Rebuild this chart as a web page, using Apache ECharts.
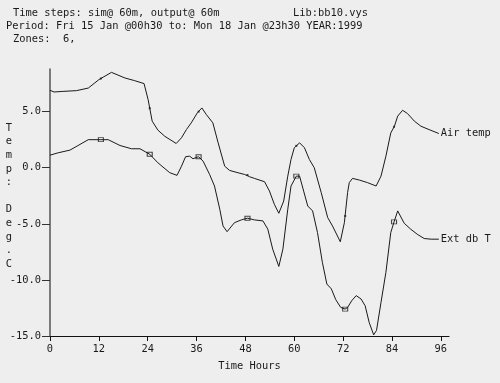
<!DOCTYPE html>
<html><head><meta charset="utf-8">
<script src="https://cdn.jsdelivr.net/npm/echarts@6/dist/echarts.min.js"></script>
<style>html,body{margin:0;padding:0;background:#eeeeee}#c{width:500px;height:383px}</style>
</head><body><div id="c"></div>
<script>
// Air temp readings (hour, deg C)
const airHours = [0,1,3,6.5,9.4,12,15.1,18.4,20.8,23.1,24.1,25.1,26.5,28.2,31.0,32.3,33.5,34.7,36.2,37.3,38.4,40.0,41.3,42.9,44.1,46.2,47.8,49,50.2,52.7,53.9,55.1,56.2,57.4,58.4,59.2,60.0,61.3,62.5,63.7,64.9,66.6,68.2,69.4,71.3,72.3,73.1,73.5,74.3,76,78,80.1,81.3,82.5,83.7,84.6,85.4,86.6,87.8,89.5,91.1,93.1,95.5];
const airTemp = [6.9,6.75,6.8,6.87,7.1,7.85,8.5,8.0,7.76,7.5,6.07,4.15,3.35,2.8,2.16,2.67,3.4,4.0,4.9,5.33,4.74,4.0,2.22,0.14,-0.24,-0.45,-0.6,-0.8,-0.95,-1.25,-2.08,-3.26,-4.06,-2.97,-0.75,0.74,1.78,2.22,1.78,0.74,0.0,-2.2,-4.44,-5.2,-6.6,-4.9,-2.2,-1.33,-0.95,-1.1,-1.33,-1.63,-0.75,1.03,3.1,3.7,4.6,5.12,4.83,4.15,3.7,3.4,3.05];
// Ext db T readings (hour, deg C)
const extHours = [0,2.0,4.9,6.9,9.4,12.5,14.3,17.2,20.0,22.1,24.5,26.5,29.4,31.2,32.3,33.3,34.3,35.1,36.5,37.6,39.2,40.4,41.7,42.5,43.5,45.3,47.0,48.5,50.2,52.3,53.5,54.7,56.2,57.2,58.4,59.2,60.5,61.3,62.3,63.3,64.5,65.7,66.9,68.0,69.1,70.2,71.4,72.5,73.1,74.1,75.2,76.4,77.4,78.4,79.5,80.2,81.3,82.5,83.7,84.5,85.4,87.0,88.6,90.2,91.9,93.6,95.5];
const extTemp = [1.12,1.33,1.57,1.98,2.5,2.5,2.5,1.98,1.69,1.69,1.2,0.44,-0.44,-0.68,0.14,0.98,1.03,0.8,0.98,0.59,-0.6,-1.63,-3.7,-5.2,-5.7,-4.9,-4.65,-4.5,-4.65,-4.74,-5.48,-7.26,-8.8,-7.26,-3.7,-1.63,-0.75,-0.75,-2.08,-3.41,-3.85,-5.78,-8.44,-10.37,-10.8,-11.77,-12.45,-12.6,-12.45,-11.86,-11.4,-11.7,-12.3,-13.8,-14.9,-14.5,-12.0,-9.33,-5.78,-4.83,-3.85,-4.95,-5.48,-5.93,-6.31,-6.37,-6.37];
// marker readings
const markHours = [12.5,24.5,36.5,48.5,60.5,72.5,84.5];
const airMarks = [7.95,5.3,5.0,-0.65,1.95,-4.3,3.65];
const extMarks = [2.5,1.2,0.98,-4.5,-0.75,-12.6,-4.83];
const xTicks = [0,12,24,36,48,60,72,84,96];
const yTicks = [-15,-10,-5,0,5];
const headerLines = ["Time steps: sim@ 60m, output@ 60m","Period: Fri 15 Jan @00h30 to: Mon 18 Jan @23h30 YEAR:1999","Zones:  6,"];
const libText = "Lib:bb10.vys";
const yTitle = "Temp: Deg.C";
const xTitle = "Time Hours";
const seriesNames = ["Air temp","Ext db T"];

const FONT = '"DejaVu Sans Mono", monospace';
const FS = 10.4;
const INK = '#1a1a1a';
const zip = (a,b)=>a.map((h,i)=>[h,b[i]]);

const chart = echarts.init(document.getElementById('c'), null, {renderer:'canvas'});
function txt(text,x,y,extra){return Object.assign({type:'text',style:{text,x,y,fill:INK,font:FS+'px '+FONT,fontFamily:FONT,fontSize:FS,textVerticalAlign:'middle',verticalAlign:'middle'}},extra||{});}
const lineStyleBase = {color:INK,width:1};
chart.setOption({
  backgroundColor:'#eeeeee',
  animation:false,
  grid:{left:50,right:51,top:69,bottom:47},
  xAxis:{type:'value',min:0,max:98,interval:12,
    axisLine:{onZero:false,lineStyle:{color:'#111',width:1.2}},
    axisTick:{show:true,length:5,customValues:xTicks,lineStyle:{color:'#111'}},
    axisLabel:{customValues:xTicks,margin:8,color:INK,fontFamily:FONT,fontSize:FS},
    splitLine:{show:false},
    name:xTitle,nameLocation:'middle',nameGap:25,nameTextStyle:{color:INK,fontFamily:FONT,fontSize:FS}},
  yAxis:{type:'value',min:-15,max:8.8,interval:5,
    axisLine:{show:true,onZero:false,lineStyle:{color:'#555',width:1.5}},
    axisTick:{show:true,length:8,customValues:yTicks,lineStyle:{color:'#333'}},
    axisLabel:{customValues:yTicks,margin:9,color:INK,fontFamily:FONT,fontSize:FS,formatter:v=>v.toFixed(1)},
    splitLine:{show:false}},
  graphic:[
    txt(headerLines[0],13,13),
    txt(libText,293,13),
    txt(headerLines[1],6,26),
    txt(headerLines[2],13,39),
    {type:'text',style:{text:yTitle.split('').join('\n'),x:9,y:196,fill:INK,fontFamily:FONT,fontSize:FS,font:FS+'px '+FONT,lineHeight:13.6,textAlign:'center',align:'center',textVerticalAlign:'middle',verticalAlign:'middle'}}
  ],
  series:[
    {name:seriesNames[0],type:'line',data:zip(airHours,airTemp),showSymbol:false,symbol:'none',lineStyle:lineStyleBase,
      endLabel:{show:true,formatter:'{a}',distance:2,color:INK,fontFamily:FONT,fontSize:FS}},
    {name:seriesNames[1],type:'line',data:zip(extHours,extTemp),showSymbol:false,symbol:'none',lineStyle:lineStyleBase,
      endLabel:{show:true,formatter:'{a}',distance:2,color:INK,fontFamily:FONT,fontSize:FS}},
    {name:seriesNames[0]+' marks',type:'scatter',data:zip(markHours,airMarks),symbol:'rect',symbolSize:2,itemStyle:{color:INK}},
    {name:seriesNames[1]+' marks',type:'scatter',data:zip(markHours,extMarks),symbol:'rect',symbolSize:[5,4],itemStyle:{color:'#eeeeee',borderColor:INK,borderWidth:1}}
  ]
});
</script></body></html>
